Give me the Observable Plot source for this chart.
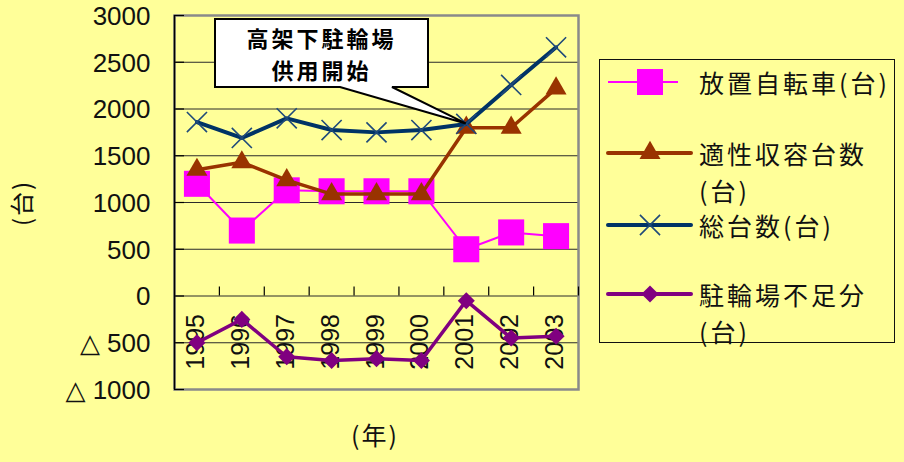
<!DOCTYPE html>
<html><head><meta charset="utf-8">
<script src="https://cdn.jsdelivr.net/npm/d3@7"></script>
<script src="https://cdn.jsdelivr.net/npm/@observablehq/plot@0.6"></script>
<style>
html,body{margin:0;padding:0;background:#FFFF99;}
#wrap{position:relative;width:904px;height:462px;background:#FFFF99;overflow:hidden;
  font-family:"Noto Sans CJK JP","Noto Sans",sans-serif;color:#111;}
#wrap svg{position:absolute;left:0;top:0;}
.lbl{position:absolute;white-space:nowrap;font-size:25px;line-height:26px;letter-spacing:2px;}
#legend{position:absolute;left:599px;top:59px;width:296px;height:284px;border:1.5px solid #111;box-sizing:border-box;}
#note{position:absolute;left:215px;top:19px;width:213px;height:68px;display:flex;flex-direction:column;align-items:center;justify-content:center;
  font-size:22px;font-weight:bold;line-height:32px;letter-spacing:3px;color:#000;text-align:center;}
</style></head><body><div id="wrap"></div>
<script>
// ---- data ----
const years = [1995, 1996, 1997, 1998, 1999, 2000, 2001, 2002, 2003];
const bikes = [1200, 700, 1130, 1120, 1120, 1120, 500, 680, 640];          // 放置自転車(台)
const capacity = [1350, 1430, 1240, 1090, 1090, 1090, 1800, 1800, 2220];   // 適性収容台数(台)
const total = [1860, 1690, 1900, 1775, 1750, 1775, 1840, 2257, 2660];      // 総台数(台)
const shortage = [-500, -250, -650, -690, -670, -690, -50, -450, -430];    // 駐輪場不足分(台)
const yTicks = [-1000, -500, 0, 500, 1000, 1500, 2000, 2500, 3000];
const gridTicks = [-500, 0, 500, 1000, 1500, 2000, 2500];
const legendLines = [["放置自転車(台)"], ["適性収容台数", "(台)"], ["総台数(台)"], ["駐輪場不足分", "(台)"]];
const noteLines = ["高架下駐輪場", "供用開始"];
const noteYear = 2001;
const yLabel = "(台)";
const xLabel = "(年)";

const colors = {bikes: "#FF00FF", capacity: "#993300", total: "#003366", shortage: "#800080"};
const fmt = v => v < 0 ? "△ " + Math.abs(v) : String(v);
const x0 = years[0] - 0.5, x1 = years[years.length - 1] + 0.5;
const boundaries = years.map(y => y + 0.5);
const rows = (vals) => years.map((y, i) => ({year: y, v: vals[i]}));
const numFont = '"Liberation Sans", "DejaVu Sans", sans-serif';

const chart = Plot.plot({
  width: 904, height: 462,
  marginLeft: 174, marginRight: 326, marginTop: 15, marginBottom: 73,
  style: {background: "transparent", fontFamily: numFont, color: "#111", overflow: "visible"},
  x: {type: "linear", domain: [x0, x1], axis: null},
  y: {domain: [-1000, 3000], axis: null},
  marks: [
    Plot.ruleY(gridTicks, {stroke: "#2b2b2b", strokeWidth: 1}),
    Plot.frame({stroke: "#8a8a8a", strokeWidth: 2.5}),
    Plot.ruleX([x0], {stroke: "#000", strokeWidth: 1.5}),
    Plot.ruleY(yTicks, {y: d => d, x1: x0, x2: x0, insetRight: -10, stroke: "#000", strokeWidth: 1.2}),
    Plot.ruleX(boundaries, {x: d => d, y1: 0, y2: 0, insetBottom: 9, stroke: "#000", strokeWidth: 1.2}),
    Plot.text(yTicks, {y: d => d, frameAnchor: "left", textAnchor: "end", dx: -24, dy: 1, text: fmt, fontSize: 26, fill: "#111", ariaLabel: "yticks"}),
    Plot.text(years, {x: d => d, y: 0, rotate: -90, textAnchor: "end", dy: 18, dx: -1, text: d => String(d), fontSize: 25, fill: "#111", lineAnchor: "middle", ariaLabel: "years"}),
    // 放置自転車
    Plot.line(rows(bikes), {x: "year", y: "v", stroke: colors.bikes, strokeWidth: 2}),
    Plot.dot(rows(bikes), {x: "year", y: "v", symbol: "square", r: 14.7, fill: colors.bikes, stroke: null}),
    // 適性収容台数
    Plot.line(rows(capacity), {x: "year", y: "v", stroke: colors.capacity, strokeWidth: 3.5}),
    Plot.dot(rows(capacity), {x: "year", y: "v", symbol: "triangle", r: 7.8, fill: colors.capacity, stroke: null}),
    // 総台数
    Plot.line(rows(total), {x: "year", y: "v", stroke: colors.total, strokeWidth: 4}),
    Plot.dot(rows(total), {x: "year", y: "v", symbol: "times", r: 9.2, stroke: "#1f4a7a", strokeWidth: 1.6, fill: "none"}),
    // 駐輪場不足分
    Plot.line(rows(shortage), {x: "year", y: "v", stroke: colors.shortage, strokeWidth: 3.5}),
    Plot.dot(rows(shortage), {x: "year", y: "v", symbol: "diamond2", r: 7.7, fill: colors.shortage, stroke: null})
  ]
});
d3.select(chart).selectAll('g[aria-label="years"] text').attr("letter-spacing", "1.5px");
d3.select(chart).selectAll('g[aria-label="yticks"] text').attr("letter-spacing", "0.5px");
const wrap = document.getElementById("wrap");
wrap.appendChild(chart);

// axis titles
const yl = document.createElement("div");
yl.className = "lbl"; yl.textContent = yLabel;
yl.style.cssText = "left:21px;top:203px;transform:translate(-50%,-50%) rotate(-90deg);font-size:24px;";
wrap.appendChild(yl);
const xl = document.createElement("div");
xl.className = "lbl"; xl.textContent = xLabel;
xl.style.cssText = "left:375px;top:434px;transform:translate(-50%,-50%);font-size:25px;";
wrap.appendChild(xl);

// callout annotation
const sx = chart.scale("x"), sy = chart.scale("y");
const tipX = sx.apply(noteYear), tipY = sy.apply(total[years.indexOf(noteYear)]);
const ns = "http://www.w3.org/2000/svg";
const ov = document.createElementNS(ns, "svg");
ov.setAttribute("width", 904); ov.setAttribute("height", 462);
const bx = 215, by = 19, bw = 213, bh = 68;
const p = document.createElementNS(ns, "path");
p.setAttribute("d", `M${bx},${by}H${bx+bw}V${by+bh}H392L${tipX},${tipY}L340,${by+bh}H${bx}Z`);
p.setAttribute("fill", "#fff"); p.setAttribute("stroke", "#000"); p.setAttribute("stroke-width", 2);
ov.appendChild(p);
wrap.appendChild(ov);
const note = document.createElement("div");
note.id = "note";
note.innerHTML = noteLines.join("<br>");
wrap.appendChild(note);

// legend
const lg = document.createElement("div");
lg.id = "legend";
wrap.appendChild(lg);
const legendY = [82, 153, 225, 294];
const legendGap = [37, 37, 37, 37];
const legSvg = document.createElementNS(ns, "svg");
legSvg.setAttribute("width", 904); legSvg.setAttribute("height", 462);
const keys = ["bikes", "capacity", "total", "shortage"];
const symbols = {bikes: d3.symbolSquare, capacity: d3.symbolTriangle, total: d3.symbolTimes, shortage: d3.symbolDiamond2};
const rs = {bikes: 14.7, capacity: 7.8, total: 9.2, shortage: 7.7};
keys.forEach((k, i) => {
  const y = legendY[i];
  const ln = document.createElementNS(ns, "line");
  ln.setAttribute("x1", 608); ln.setAttribute("x2", k === "bikes" ? 678 : 691);
  ln.setAttribute("y1", y); ln.setAttribute("y2", y);
  ln.setAttribute("stroke", colors[k]); ln.setAttribute("stroke-width", k === "bikes" ? 2 : 4);
  ln.setAttribute("stroke-linecap", k === "bikes" ? "butt" : "round");
  legSvg.appendChild(ln);
  const sp = document.createElementNS(ns, "path");
  sp.setAttribute("d", d3.symbol(symbols[k], rs[k] * rs[k] * Math.PI)());
  sp.setAttribute("transform", `translate(650,${y})`);
  if (k === "total") { sp.setAttribute("fill", "none"); sp.setAttribute("stroke", "#1f4a7a"); sp.setAttribute("stroke-width", 1.6); }
  else sp.setAttribute("fill", colors[k]);
  legSvg.appendChild(sp);
  const d = document.createElement("div");
  d.className = "lbl";
  d.innerHTML = legendLines[i].join("<br>");
  const lh = legendGap[i];
  d.style.cssText = `left:699px;top:${y - lh / 2}px;font-size:25px;line-height:${lh}px;letter-spacing:3px;`;
  wrap.appendChild(d);
});
wrap.appendChild(legSvg);
</script></body></html>
